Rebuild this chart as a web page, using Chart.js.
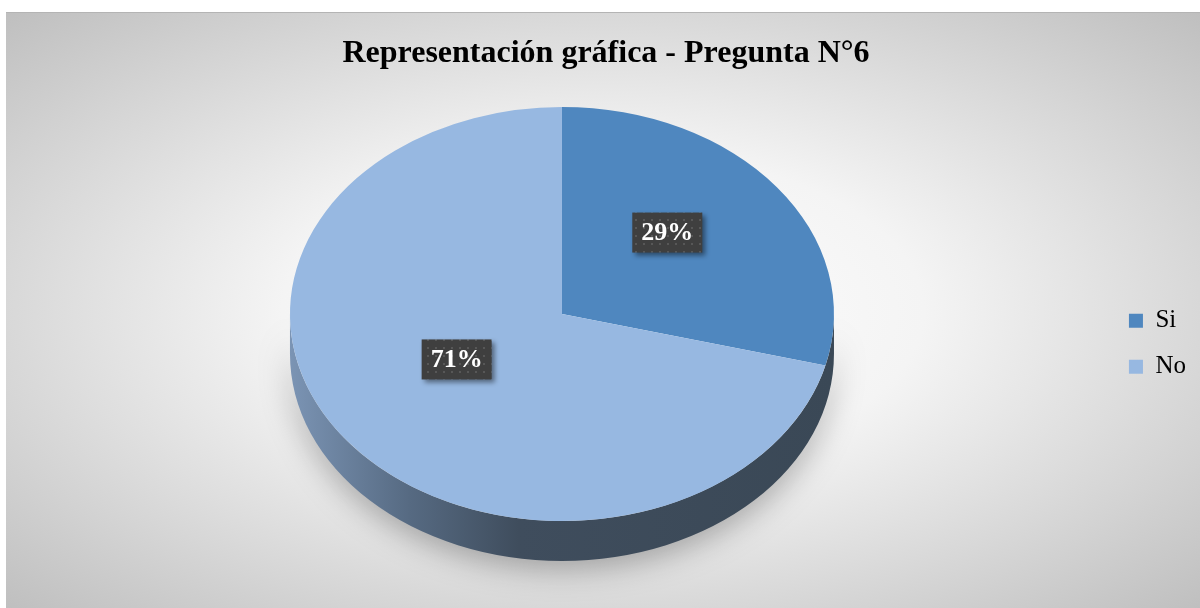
<!DOCTYPE html>
<html>
<head>
<meta charset="utf-8">
<script src="https://cdn.jsdelivr.net/npm/chart.js@4.4.1/dist/chart.umd.min.js"></script>
<style>
    html, body { margin: 0; padding: 0; background: #fff; }
    #bg {
        position: absolute; left: 6px; top: 12px; width: 1194px; height: 596px;
        background: radial-gradient(ellipse farthest-corner at 50% 50%, #ffffff 0%, #f4f4f4 38%, #bfbfbf 100%);
        border-top: 1px solid #b4b4b4;
    }
    #wrap { position: absolute; left: 0; top: 0; width: 1200px; height: 608px; }
</style>
</head>
<body>
<div id="bg"></div>
<div id="wrap"><canvas id="chart" width="1200" height="608"></canvas></div>
<script>
const categories = ['Si', 'No'];
const percentages = [29, 71];
const sliceColors = ['#4f87bf', '#97b8e1'];
const chartTitle = 'Representación gráfica - Pregunta N°6';

// look of the tilted pie
const pieRx = 272;
const pieRy = 207;
const pieCy = 314;
const pieDepth = 40;

function makeDotPattern(ctx) {
    const c = document.createElement('canvas');
    c.width = 8; c.height = 8;
    const p = c.getContext('2d');
    p.fillStyle = '#3f3f3f';
    p.fillRect(0, 0, 8, 8);
    p.fillStyle = '#575757';
    p.fillRect(3, 3, 2, 2);
    return ctx.createPattern(c, 'repeat');
}

function geom(chart) {
    const arc = chart.getDatasetMeta(0).data[0];
    return { x: arc.x, y: arc.y, r: arc.outerRadius, cx: arc.x };
}

const pie3d = {
    id: 'pie3d',
    beforeDatasetsDraw(chart) {
        const ctx = chart.ctx;
        const g = geom(chart);
        const cx = g.cx, cy = pieCy;

        // side wall
        ctx.save();
        ctx.beginPath();
        ctx.ellipse(cx, cy + pieDepth, pieRx, pieRy, 0, 0, Math.PI);
        ctx.lineTo(cx - pieRx, cy);
        ctx.ellipse(cx, cy, pieRx, pieRy, 0, Math.PI, 0, true);
        ctx.closePath();
        const grad = ctx.createLinearGradient(cx - pieRx, 0, cx + pieRx, 0);
        grad.addColorStop(0, '#7b94b4');
        grad.addColorStop(0.22, '#566a82');
        grad.addColorStop(0.42, '#3f4d5d');
        grad.addColorStop(1, '#3a4856');
        ctx.fillStyle = grad;
        ctx.shadowColor = 'rgba(0,0,0,0.3)';
        ctx.shadowBlur = 30;
        ctx.shadowOffsetY = 8;
        ctx.fill();
        ctx.restore();

        // squash the flat pie into the top face
        ctx.save();
        ctx.translate(cx, cy);
        ctx.scale(pieRx / g.r, pieRy / g.r);
        ctx.translate(-g.x, -g.y);
    },
    afterDatasetsDraw(chart) {
        const ctx = chart.ctx;
        ctx.restore();
        const g = geom(chart);
        const meta = chart.getDatasetMeta(0);
        const pattern = makeDotPattern(ctx);
        meta.data.forEach((arc, i) => {
            const mid = (arc.startAngle + arc.endAngle) / 2;
            const lx = g.cx + Math.cos(mid) * pieRx * 0.49;
            const ly = pieCy - 18 + Math.sin(mid) * pieRy * 0.5;
            const text = percentages[i] + '%';
            ctx.save();
            ctx.font = 'bold 26px "Liberation Serif"';
            const w = ctx.measureText(text).width + 18;
            const h = 40;
            ctx.shadowColor = 'rgba(0,0,0,0.45)';
            ctx.shadowBlur = 5;
            ctx.shadowOffsetX = 3;
            ctx.shadowOffsetY = 3;
            ctx.fillStyle = pattern;
            ctx.fillRect(lx - w / 2, ly - h / 2, w, h);
            ctx.shadowColor = 'transparent';
            ctx.fillStyle = '#ffffff';
            ctx.textAlign = 'center';
            ctx.textBaseline = 'middle';
            ctx.fillText(text, lx, ly + 1);
            ctx.restore();
        });
    }
};

new Chart(document.getElementById('chart'), {
    type: 'pie',
    data: {
        labels: categories,
        datasets: [{
            data: percentages,
            backgroundColor: sliceColors,
            borderWidth: 0
        }]
    },
    options: {
        responsive: false,
        animation: false,
        layout: { padding: { left: 16, right: 4, bottom: 14 } },
        plugins: {
            tooltip: { enabled: false },
            title: {
                display: true,
                text: chartTitle,
                color: '#000',
                font: { family: 'Liberation Serif', size: 32, weight: 'bold' },
                padding: { top: 35, bottom: 20 }
            },
            legend: {
                position: 'right',
                fullSize: false,
                labels: {
                    color: '#000',
                    boxWidth: 14,
                    boxHeight: 14,
                    padding: 21,
                    font: { family: 'Liberation Serif', size: 25 }
                }
            }
        }
    },
    plugins: [pie3d]
});
</script>
</body>
</html>
